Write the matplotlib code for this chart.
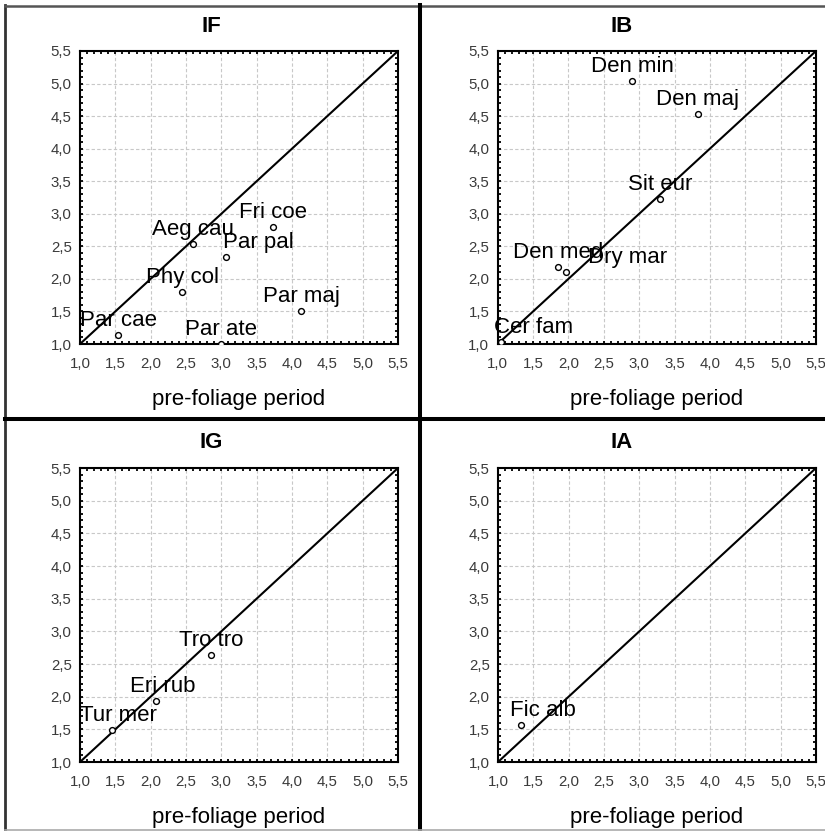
import matplotlib
matplotlib.use("Agg")
import matplotlib.pyplot as plt
from matplotlib.lines import Line2D
from matplotlib.ticker import MultipleLocator, FixedLocator, FixedFormatter

plt.rcParams['font.family'] = ['Liberation Sans', 'DejaVu Sans']

# ---- data ----
panel_titles = ["IF", "IB", "IG", "IA"]

if_names = ["Par cae", "Phy col", "Aeg cau", "Par pal", "Fri coe", "Par maj", "Par ate"]
if_x = [1.54, 2.45, 2.60, 3.07, 3.73, 4.13, 2.99]
if_y = [1.14, 1.80, 2.53, 2.34, 2.80, 1.51, 1.00]

ib_names = ["Den min", "Den maj", "Sit eur", "Den med", "Dry mar", "Cer fam"]
ib_x = [2.90, 3.83, 3.30, 1.85, 1.97, 1.05]
ib_y = [5.04, 4.53, 3.22, 2.19, 2.10, 1.03]

ig_names = ["Tur mer", "Eri rub", "Tro tro"]
ig_x = [1.45, 2.08, 2.85]
ig_y = [1.49, 1.94, 2.64]

ia_names = ["Fic alb"]
ia_x = [1.32]
ia_y = [1.57]

tick_values = [1.0, 1.5, 2.0, 2.5, 3.0, 3.5, 4.0, 4.5, 5.0, 5.5]
tick_labels = ["1,0", "1,5", "2,0", "2,5", "3,0", "3,5", "4,0", "4,5", "5,0", "5,5"]
x_label = "pre-foliage period"

# label horizontal shifts (pixels), layout only
if_shift = [0, 0, 0, 32, 0, 0, 0]
ib_shift = [0, 0, 0, 0, 61, 32]
ig_shift = [7, 6, 0]
ia_shift = [22]

W, H = 825, 831
fig = plt.figure(figsize=(W / 100, H / 100), dpi=100)
fig.patch.set_facecolor("white")

def fx(px):
    return px / W

def fy(py):
    return 1 - py / H

# axes rectangles in pixels: (left, top, right, bottom)
rects = [(80, 51, 398, 344), (497.7, 51, 816, 344),
         (80, 468, 398, 762), (498, 468, 816, 762)]
panel_centers = [(211.5, 26), (622, 26), (211.5, 443), (622, 443)]

datasets = [(if_names, if_x, if_y, if_shift),
            (ib_names, ib_x, ib_y, ib_shift),
            (ig_names, ig_x, ig_y, ig_shift),
            (ia_names, ia_x, ia_y, ia_shift)]

for i, (title, rect, (names, xs, ys, shifts), pc) in enumerate(
        zip(panel_titles, rects, datasets, panel_centers)):
    l, t, r, b = rect
    ax = fig.add_axes([fx(l), fy(b), (r - l) / W, (b - t) / H])
    ax.set_xlim(1.0, 5.5)
    ax.set_ylim(1.0, 5.5)
    ax.xaxis.set_major_locator(FixedLocator(tick_values))
    ax.yaxis.set_major_locator(FixedLocator(tick_values))
    ax.xaxis.set_major_formatter(FixedFormatter(tick_labels))
    ax.yaxis.set_major_formatter(FixedFormatter(tick_labels))
    ax.xaxis.set_minor_locator(MultipleLocator(0.1))
    ax.yaxis.set_minor_locator(MultipleLocator(0.1))
    ax.tick_params(which="both", direction="in", top=True, right=True,
                   length=2.5, width=1.3, color="black")
    ax.tick_params(axis="both", which="major", labelsize=10.8,
                   labelcolor="#3a3a3a")
    ax.tick_params(axis="x", which="major", pad=9)
    ax.tick_params(axis="y", which="major", pad=6)
    for s in ax.spines.values():
        s.set_linewidth(1.5)
        s.set_color("black")
    ax.grid(True, which="major", color="#c8c8c8", linestyle=(0, (3, 2)),
            linewidth=0.8)
    ax.set_axisbelow(True)

    ax.plot([1.0, 5.5], [1.0, 5.5], color="black", linewidth=1.5, zorder=3)
    ax.plot(xs, ys, linestyle="none", marker="o", markersize=4.2,
            markerfacecolor="white", markeredgecolor="black",
            markeredgewidth=1.0, zorder=4)
    for name, x, y, s in zip(names, xs, ys, shifts):
        ax.annotate(name, (x, y), xytext=(s, 9), textcoords="offset pixels",
                    ha="center", va="baseline", fontsize=16, color="black",
                    annotation_clip=False, zorder=5)

    ax.set_xlabel(x_label, fontsize=16, labelpad=13)
    fig.text(fx(pc[0]), fy(pc[1]), title, fontsize=16, fontweight="bold",
             ha="center", va="center")

# panel borders
def fline(x0, y0, x1, y1, color, lw):
    fig.add_artist(Line2D([fx(x0), fx(x1)], [fy(y0), fy(y1)], color=color,
                          linewidth=lw, transform=fig.transFigure))

fline(5, 5, 5, 830, "#333333", 2.0)
fline(5, 6, 825, 6, "#555555", 1.8)
fline(419.5, 5, 419.5, 831, "black", 2.9)
fline(5, 418.5, 825, 418.5, "black", 2.9)
fline(5, 830, 825, 830, "#aaaaaa", 1.2)

fig.savefig("out.png", dpi=100)
